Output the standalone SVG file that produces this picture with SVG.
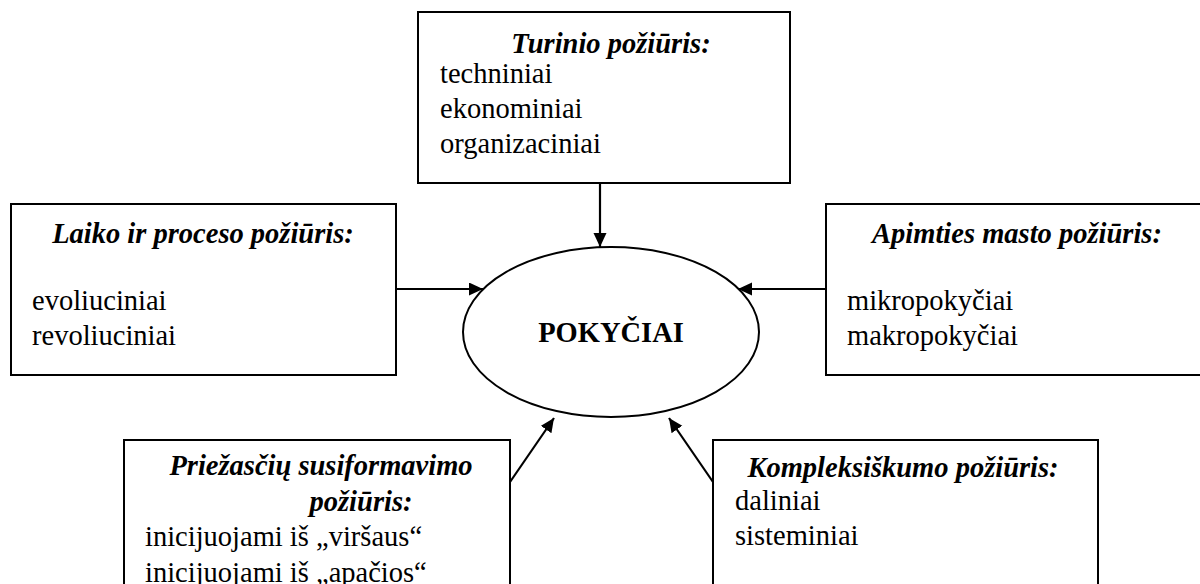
<svg xmlns="http://www.w3.org/2000/svg" width="1200" height="584" viewBox="0 0 1200 584">
<defs>
<marker id="arr" markerUnits="userSpaceOnUse" markerWidth="16" markerHeight="14" refX="14" refY="6.5" orient="auto">
<path d="M0,0 L14,6.5 L0,13 Z" fill="#000"/>
</marker>
<style>
.box{fill:#fff;stroke:#000;stroke-width:2}
.t{font-family:"Liberation Serif","Times New Roman",serif;font-size:28.5px;fill:#000}
.h{font-weight:bold;font-style:italic;text-anchor:middle}
.c{stroke:#000;stroke-width:2.2;fill:none;marker-end:url(#arr)}
</style>
</defs>
<rect width="1200" height="584" fill="#fff"/>
<g id="node-turinio">
<rect class="box" x="418" y="12" width="372" height="171"/>
<text class="t h" x="611" y="53">Turinio požiūris:</text>
<text class="t" x="440" y="83">techniniai</text>
<text class="t" x="440" y="118">ekonominiai</text>
<text class="t" x="440" y="153">organizaciniai</text>
</g>
<g id="node-laiko">
<rect class="box" x="11" y="204" width="385" height="171"/>
<text class="t h" x="203" y="243">Laiko ir proceso požiūris:</text>
<text class="t" x="32" y="310">evoliuciniai</text>
<text class="t" x="32" y="345">revoliuciniai</text>
</g>
<g id="node-apimties">
<rect class="box" x="826" y="204" width="390" height="171"/>
<text class="t h" x="1017" y="243">Apimties masto požiūris:</text>
<text class="t" x="847" y="310">mikropokyčiai</text>
<text class="t" x="847" y="345">makropokyčiai</text>
</g>
<g id="node-priezasciu">
<rect class="box" x="124" y="440" width="386" height="170"/>
<text class="t h" x="321" y="475">Priežasčių susiformavimo</text>
<text class="t h" x="361" y="510.5">požiūris:</text>
<text class="t" x="145" y="546">inicijuojami iš „viršaus“</text>
<text class="t" x="145" y="581.5">inicijuojami iš „apačios“</text>
</g>
<g id="node-kompleksiskumo">
<rect class="box" x="713" y="440" width="385" height="170"/>
<text class="t h" x="903" y="477">Kompleksiškumo požiūris:</text>
<text class="t" x="735" y="510">daliniai</text>
<text class="t" x="735" y="545">sisteminiai</text>
</g>
<g id="node-pokyciai">
<ellipse cx="611" cy="332" rx="148" ry="85" fill="#fff" stroke="#000" stroke-width="2"/>
<text class="t" x="611" y="342" text-anchor="middle" font-weight="bold">POKYČIAI</text>
</g>
<g id="connectors">
<line class="c" x1="600" y1="183" x2="600" y2="247"/>
<line class="c" x1="396" y1="289" x2="483" y2="289"/>
<line class="c" x1="826" y1="289" x2="738" y2="289"/>
<line class="c" x1="510" y1="482" x2="554" y2="418"/>
<line class="c" x1="713" y1="482" x2="669" y2="418"/>
</g>
</svg>
